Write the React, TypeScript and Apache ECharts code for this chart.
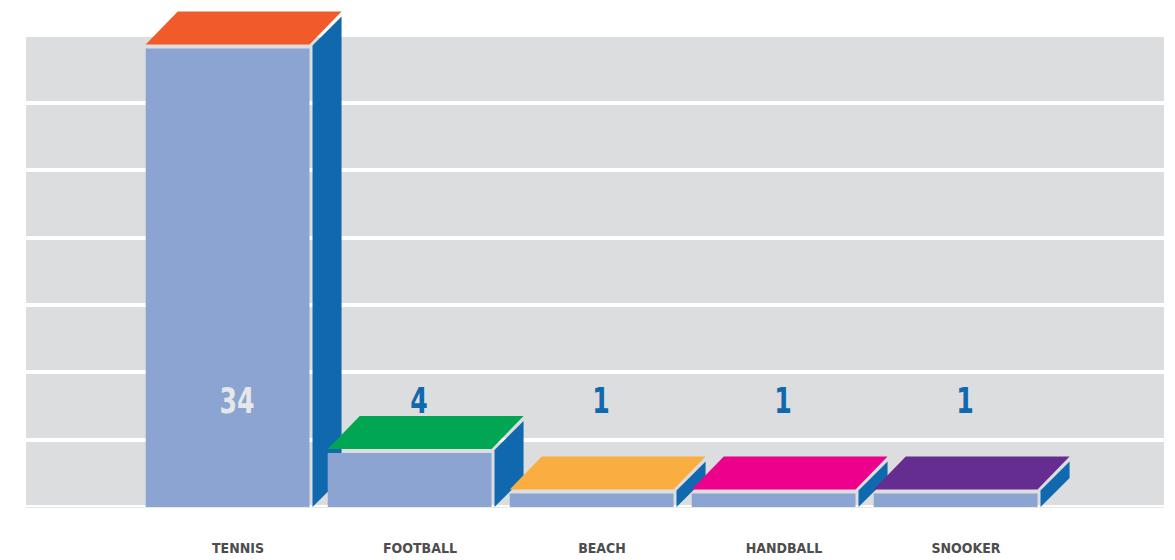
import React, { useEffect, useRef } from "react";
import * as echarts from "echarts";

const categories = ["TENNIS", "FOOTBALL", "BEACH", "HANDBALL", "SNOOKER"];
const values = [34, 4, 1, 1, 1];
const topColors = ["#F15A29", "#00A651", "#FBAE40", "#EC008C", "#662D91"];
const labelColors = ["#E6E7E8", "#1068AF", "#1068AF", "#1068AF", "#1068AF"];
const LABEL_LEVEL = 7.9;
const FONT = "'Liberation Sans Narrow', 'DejaVu Sans Condensed', 'Liberation Sans', Arial, sans-serif";

export default function App() {
  const ref = useRef<HTMLDivElement>(null);
  useEffect(() => {
    if (!ref.current) return;
    const chart = echarts.init(ref.current, undefined, { renderer: "svg" });
    const option: any = {
      animation: false,
      backgroundColor: "#ffffff",
      grid: [
        { left: 26, right: 11, top: 35, bottom: 53 },
        { left: 147, width: 910, top: 35, bottom: 53 },
      ],
      xAxis: [
        {
          gridIndex: 0,
          type: "value",
          min: 0,
          max: 1,
          show: true,
          axisLine: { show: true, lineStyle: { color: "#E8E8E8", width: 1 } },
          axisTick: { show: false },
          axisLabel: { show: false },
          splitLine: { show: false },
        },
        {
          gridIndex: 1,
          type: "category",
          data: categories,
          axisLine: { show: false },
          axisTick: { show: false },
          axisLabel: {
            margin: 34,
            color: "#4D4D4D",
            fontWeight: "bold",
            fontSize: 14,
            fontFamily: FONT,
          },
        },
      ],
      yAxis: [
        {
          gridIndex: 0,
          type: "value",
          min: 0,
          max: 35,
          interval: 5,
          axisLine: { show: false },
          axisTick: { show: false },
          axisLabel: { show: false },
          splitArea: { show: true, areaStyle: { color: ["#DCDDDF"] } },
          splitLine: { show: true, lineStyle: { color: "#FFFFFF", width: 4 } },
        },
        {
          gridIndex: 1,
          type: "value",
          min: 0,
          max: 35,
          interval: 5,
          show: false,
          splitLine: { show: false },
        },
      ],
      series: [
        {
          type: "custom",
          xAxisIndex: 1,
          yAxisIndex: 1,
          data: values.map((v, i) => [i, v]),
          renderItem: (params: any, api: any) => {
            const idx = api.value(0);
            const val = api.value(1);
            const c = api.coord([idx, val]);
            const b = api.coord([idx, 0]);
            const lp = api.coord([idx, LABEL_LEVEL]);
            const band = api.size([1, 0])[0];
            const cx = c[0] - band * 0.057;
            const w = band * 0.9;
            const L = cx - w / 2;
            const R = cx + w / 2;
            const top = c[1];
            const base = b[1];
            const d = band * 0.176;
            const dy = 33;
            return {
              type: "group",
              children: [
                {
                  type: "rect",
                  shape: { x: L, y: top, width: w, height: base - top },
                  style: { fill: "#8BA4D1" },
                },
                {
                  type: "polygon",
                  shape: {
                    points: [
                      [L, top - 4],
                      [L + d, top - 4 - dy],
                      [R + d, top - 4 - dy],
                      [R, top - 4],
                    ],
                  },
                  style: { fill: topColors[params.dataIndex] },
                },
                {
                  type: "polygon",
                  shape: {
                    points: [
                      [R + 3, top - 3],
                      [R + d, top - 3 - (d - 3)],
                      [R + d, base - (d - 3)],
                      [R + 3, base],
                    ],
                  },
                  style: { fill: "#1068AF" },
                },
                {
                  type: "text",
                  x: lp[0] - band * 0.005,
                  y: lp[1],
                  scaleX: 0.8,
                  style: {
                    x: 0,
                    y: 0,
                    text: String(val),
                    fill: labelColors[params.dataIndex],
                    fontSize: 35,
                    fontWeight: "bold",
                    fontFamily: FONT,
                    align: "center",
                    verticalAlign: "middle",
                  },
                },
              ],
            };
          },
        },
      ],
    };
    chart.setOption(option);
    return () => chart.dispose();
  }, []);
  return (
    <div
      ref={ref}
      style={{ position: "fixed", left: 0, top: 0, width: 1175, height: 560 }}
    />
  );
}
